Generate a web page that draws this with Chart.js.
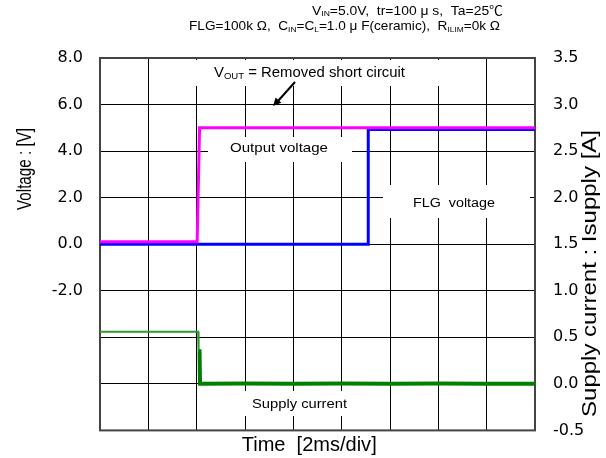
<!DOCTYPE html>
<html>
<head>
<meta charset="utf-8">
<script src="https://cdn.jsdelivr.net/npm/chart.js@4"></script>
<style>
  html, body { margin: 0; padding: 0; background: #fff; }
  canvas { display: block; }
</style>
</head>
<body>
<canvas id="c" width="606" height="458"></canvas>
<script>
// time axis in ms (2ms/div, 9 divisions)
const timeMin = 0;
const timeMax = 18;
const timeStep = 2;

// output voltage (magenta)
const outTime = [0, 4.02, 4.12, 18];
const outVolt = [0.1, 0.1, 5.0, 5.0];

// FLG voltage (blue)
const flgTime = [0, 11.1, 11.1, 18];
const flgVolt = [0, 0, 4.93, 4.93];

// supply current (green, right axis)
const curTime = [0, 4.06, 4.08, 4.12, 4.14, 6, 8, 10, 12, 14, 16, 18];
const curAmp = [0.56, 0.56, 0.35, 0.35, 0.0, 0.005, 0.0, 0.005, 0.0, 0.005, 0.0, 0.0];

// axis ranges
const voltMin = -8, voltMax = 8, voltStep = 2, voltLabelMin = -2;
const ampMin = -0.5, ampMax = 3.5, ampStep = 0.5;

const toPoints = (xs, ys) => xs.map((x, i) => ({ x: x, y: ys[i] }));

const tickFont = { family: '"DejaVu Sans", sans-serif', size: 16 };
const textFont = '"Liberation Sans", "Noto Sans CJK JP", sans-serif';

// draw text squeezed/stretched to a given width; parts = [[text, isSub], ...]
function drawFitted(ctx, parts, x, y, width, size, rot) {
  ctx.save();
  let total = 0;
  const widths = parts.map(p => {
    ctx.font = (p[1] ? Math.round(size * 0.62) : size) + 'px ' + textFont;
    const w = ctx.measureText(p[0]).width;
    total += w;
    return w;
  });
  ctx.translate(x, y);
  if (rot) ctx.rotate(rot);
  ctx.scale(width / total, 1);
  ctx.fillStyle = '#000';
  ctx.textBaseline = 'alphabetic';
  ctx.textAlign = 'left';
  let cx = 0;
  parts.forEach((p, i) => {
    ctx.font = (p[1] ? Math.round(size * 0.62) : size) + 'px ' + textFont;
    ctx.fillText(p[0], cx, p[1] ? size * 0.15 : 0);
    cx += widths[i];
  });
  ctx.restore();
}

const decor = {
  id: 'decor',
  beforeDatasetsDraw(chart) {
    const ctx = chart.ctx;
    const a = chart.chartArea;
    ctx.save();
    // white label boxes covering the grid
    ctx.fillStyle = '#fff';
    ctx.fillRect(152, 60, 318, 26);
    ctx.fillRect(208, 137, 144, 25);
    ctx.fillRect(383, 185, 147, 33);
    ctx.fillRect(238, 391, 114, 25);
    // frame
    ctx.strokeStyle = '#444';
    ctx.lineWidth = 2;
    ctx.strokeRect(a.left, a.top, a.right - a.left, a.bottom - a.top);
    ctx.restore();
  },
  afterDraw(chart) {
    const ctx = chart.ctx;
    // arrow to the output voltage line
    ctx.save();
    ctx.strokeStyle = '#000';
    ctx.fillStyle = '#000';
    ctx.lineWidth = 2;
    ctx.beginPath();
    ctx.moveTo(295, 82);
    ctx.lineTo(278, 101);
    ctx.stroke();
    const ang = Math.atan2(106 - 82, 273 - 295);
    ctx.beginPath();
    ctx.moveTo(273, 106);
    ctx.lineTo(273 - 9 * Math.cos(ang - 0.45), 106 - 9 * Math.sin(ang - 0.45));
    ctx.lineTo(273 - 9 * Math.cos(ang + 0.45), 106 - 9 * Math.sin(ang + 0.45));
    ctx.closePath();
    ctx.fill();
    ctx.restore();

    // condition lines at the top
    drawFitted(ctx, [['V', 0], ['IN', 1], ['=5.0V,  tr=100 μ s,  Ta=25℃', 0]], 312, 14.5, 191, 13);
    drawFitted(ctx, [['FLG=100k Ω,  C', 0], ['IN', 1], ['=C', 0], ['L', 1], ['=1.0 μ F(ceramic),  R', 0], ['ILIM', 1], ['=0k Ω', 0]], 189, 30, 311, 13);

    // labels inside the plot
    drawFitted(ctx, [['V', 0], ['OUT', 1], [' = Removed short circuit', 0]], 214, 76.7, 191, 14);
    drawFitted(ctx, [['Output voltage', 0]], 230, 151.7, 98, 13);
    drawFitted(ctx, [['FLG  voltage', 0]], 413, 206.7, 82, 12);
    drawFitted(ctx, [['Supply current', 0]], 252, 408, 95, 13);

    // axis titles
    drawFitted(ctx, [['Voltage : [V]', 0]], 30.5, 210, 82, 20, -Math.PI / 2);
    drawFitted(ctx, [['Supply current : Isupply [A]', 0]], 595.5, 417, 287, 20, -Math.PI / 2);
    drawFitted(ctx, [['Time  [2ms/div]', 0]], 241.7, 451, 135, 20);
  }
};

new Chart(document.getElementById('c'), {
  type: 'line',
  data: {
    datasets: [
      {
        label: 'Output voltage',
        data: toPoints(outTime, outVolt),
        borderColor: '#ff00ff',
        borderWidth: 3,
        pointRadius: 0,
        yAxisID: 'y'
      },
      {
        label: 'FLG voltage',
        data: toPoints(flgTime, flgVolt),
        borderColor: '#0000ff',
        borderWidth: 3,
        pointRadius: 0,
        yAxisID: 'y'
      },
      {
        label: 'Supply current',
        data: toPoints(curTime, curAmp),
        borderColor: '#008000',
        borderWidth: 4,
        pointRadius: 0,
        yAxisID: 'y2',
        segment: {
          borderWidth: c => c.p0.parsed.x < 4.07 ? 2 : 4,
          borderColor: c => c.p0.parsed.x < 4.07 ? '#2a9a2a' : '#008000'
        }
      }
    ]
  },
  options: {
    responsive: false,
    animation: false,
    devicePixelRatio: 1,
    layout: { padding: { top: 58, left: 0, right: 0, bottom: 0 } },
    plugins: { legend: { display: false }, tooltip: { enabled: false } },
    scales: {
      x: {
        type: 'linear',
        min: timeMin,
        max: timeMax,
        ticks: { stepSize: timeStep, display: false },
        grid: { color: '#000', lineWidth: 1, drawTicks: false },
        border: { display: false },
        afterFit: s => { s.height = 27; }
      },
      y: {
        position: 'left',
        min: voltMin,
        max: voltMax,
        ticks: {
          stepSize: voltStep,
          color: '#000',
          font: tickFont,
          padding: 17,
          callback: v => v >= voltLabelMin ? v.toFixed(1) : ''
        },
        grid: { color: '#000', lineWidth: 1, drawTicks: false },
        border: { display: false },
        afterFit: s => { s.width = 100; }
      },
      y2: {
        position: 'right',
        min: ampMin,
        max: ampMax,
        ticks: {
          stepSize: ampStep,
          color: '#000',
          font: tickFont,
          padding: 18,
          callback: v => v.toFixed(1)
        },
        grid: { display: false, drawTicks: false },
        border: { display: false },
        afterFit: s => { s.width = 71; }
      }
    }
  },
  plugins: [decor]
});
</script>
</body>
</html>
